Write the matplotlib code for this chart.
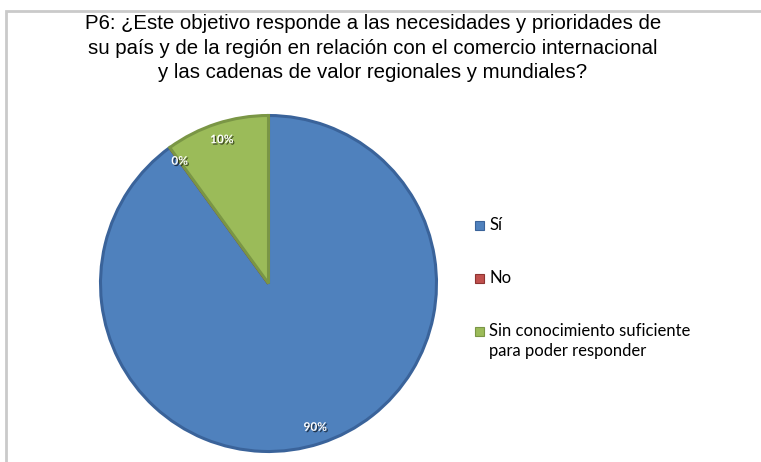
import matplotlib
matplotlib.use("Agg")
import matplotlib.pyplot as plt
import matplotlib.patheffects as pe
from matplotlib.patches import Rectangle

# Survey answers (share of respondents)
labels = ["Sí", "No", "Sin conocimiento suficiente\npara poder responder"]
values = [90, 0, 10]
colors = ["#4F81BD", "#C0504D", "#9BBB59"]
edges = ["#3A639A", "#8E3431", "#7A9645"]

title = ("P6: ¿Este objetivo responde a las necesidades y prioridades de\n"
         "su país y de la región en relación con el comercio internacional\n"
         "y las cadenas de valor regionales y mundiales?")

W, H = 761, 462
fig = plt.figure(figsize=(W / 100, H / 100), dpi=100)

# grey frame around the chart area
fig.patches.append(Rectangle((6 / W, -0.1), 1.1, (H - 11) / H + 0.1,
                             transform=fig.transFigure, fill=False,
                             edgecolor="#CACACA", linewidth=2))

fig.text(373 / W, 1 - 14 / H, title, ha="center", va="top", fontsize=14.7,
         family="Liberation Sans", linespacing=1.38)

ax = fig.add_axes([100.5 / W, 10.5 / H, 336 / W, 336 / H])
wedges, texts, autotexts = ax.pie(
    values, colors=colors, startangle=90, counterclock=False,
    autopct="%1.0f%%", pctdistance=0.9,
    wedgeprops=dict(linewidth=2.2),
    textprops=dict(color="white", fontsize=8.5, fontweight="bold", family="Lato"))
for w, ec in zip(wedges, edges):
    w.set_edgecolor(ec)
for t in autotexts:
    t.set_path_effects([pe.SimplePatchShadow(offset=(1, -1), shadow_rgbFace="black", alpha=0.6),
                        pe.Normal()])
ax.set_xlim(-1, 1)
ax.set_ylim(-1, 1)
ax.set_aspect("equal")

# legend: square aligned with the first line of each label
for i, (lab, c, e) in enumerate(zip(labels, colors, edges)):
    yc = 225 + i * 53
    fig.patches.append(Rectangle((475 / W, 1 - (yc + 4.5) / H), 9 / W, 9 / H,
                                 transform=fig.transFigure, facecolor=c,
                                 edgecolor=e, linewidth=0.8))
    fig.text(489 / W, 1 - (yc - 8) / H, lab, ha="left", va="top",
             family="Lato", fontsize=12, linespacing=1.3)

fig.savefig("out.png", dpi=100)
